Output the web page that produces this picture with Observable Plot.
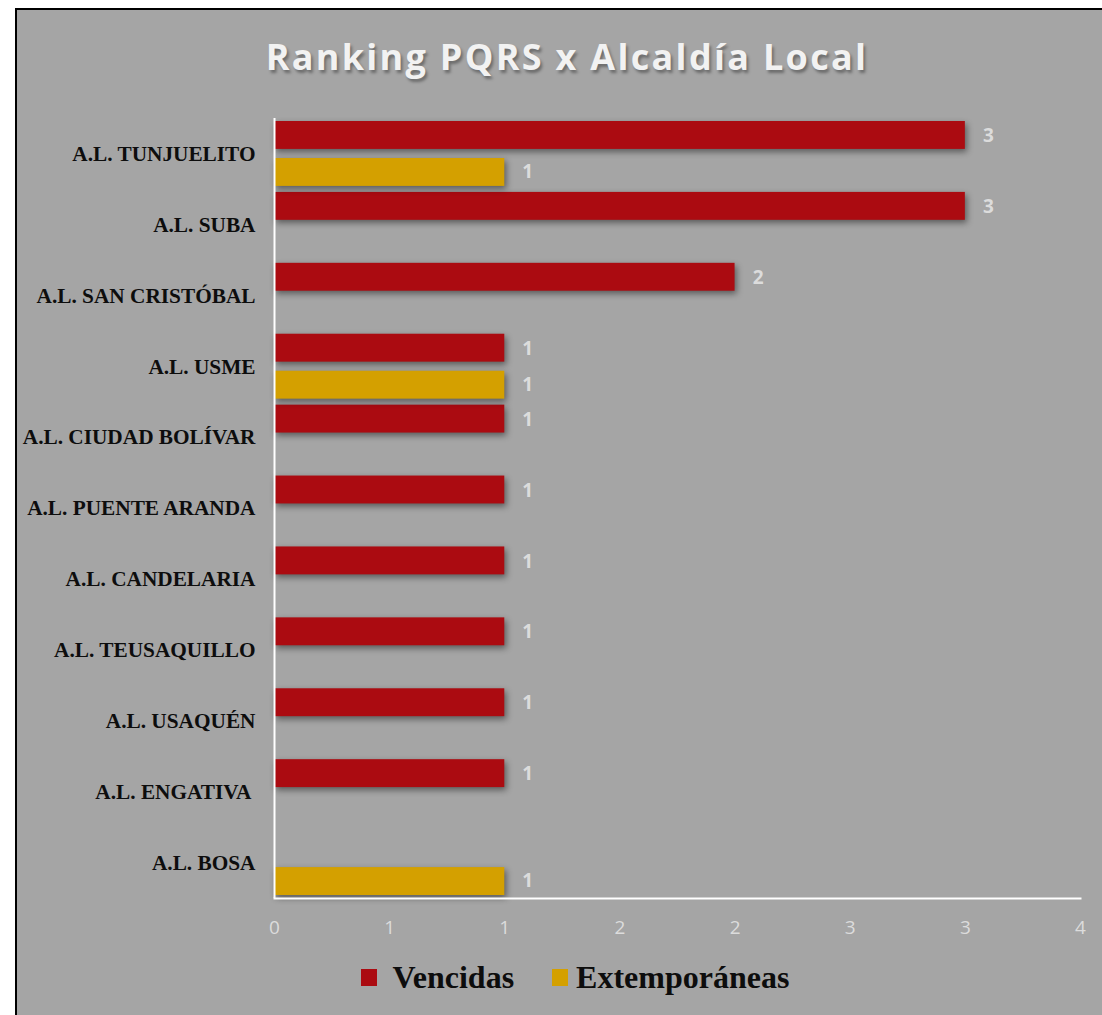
<!DOCTYPE html>
<html>
<head>
<meta charset="utf-8">
<script src="https://cdn.jsdelivr.net/npm/d3@7"></script>
<script src="https://cdn.jsdelivr.net/npm/@observablehq/plot@0.6"></script>
<style>
  html, body { margin: 0; padding: 0; background: #ffffff; width: 1102px; height: 1015px; overflow: hidden; }
  #panel { position: absolute; left: 15px; top: 8px; width: 1100px; height: 1020px; border: 2px solid #000; background: #a5a5a5; box-sizing: border-box; }
  #title { position: absolute; left: 0; top: 32px; width: 1134px; text-align: center; font-family: "Open Sans", sans-serif; font-weight: 700; font-size: 36px; letter-spacing: 2.3px; color: #f2f2f2; text-shadow: 2px 3px 3px rgba(0,0,0,0.35); white-space: nowrap; }
  #chart { position: absolute; left: 0; top: 0; }
  #chart svg { background: transparent; overflow: visible; }
  #chart g[aria-label="bar"] { filter: drop-shadow(2px 3px 3px rgba(0,0,0,0.45)); }
  #legend { position: absolute; top: 959px; left: 0; width: 1102px; display: flex; justify-content: center; align-items: center; font-family: "Liberation Serif", serif; font-weight: 700; font-size: 32px; color: #0d0d0d; padding-left: 86px; box-sizing: border-box; }
  .sw { display: inline-block; width: 16px; height: 17px; margin-right: 16px; }
  .item { display: flex; align-items: center; margin-right: 38px; }
</style>
</head>
<body>
<div id="panel"></div>
<div id="title">Ranking PQRS x Alcaldía Local</div>
<div id="chart"></div>
<div id="legend"></div>
<script>
const categories = [
  "A.L. TUNJUELITO",
  "A.L. SUBA",
  "A.L. SAN CRISTÓBAL",
  "A.L. USME",
  "A.L. CIUDAD BOLÍVAR",
  "A.L. PUENTE ARANDA",
  "A.L. CANDELARIA",
  "A.L. TEUSAQUILLO",
  "A.L. USAQUÉN",
  "A.L. ENGATIVA ",
  "A.L. BOSA"
];
const vencidas = [3, 3, 2, 1, 1, 1, 1, 1, 1, 1, 0];
const extemporaneas = [1, 0, 0, 1, 0, 0, 0, 0, 0, 0, 1];
const seriesNames = ["Vencidas", "Extemporáneas"];
const seriesColors = ["#ab0b11", "#d4a000"];
const tickValues = [0, 0.5, 1, 1.5, 2, 2.5, 3, 3.5];
const tickLabels = ["0", "1", "1", "2", "2", "3", "3", "4"];

const venData = categories.map((c, i) => ({cat: c, value: vencidas[i]})).filter(d => d.value > 0);
const extData = categories.map((c, i) => ({cat: c, value: extemporaneas[i]})).filter(d => d.value > 0);

const labelFont = "Open Sans, sans-serif";

const plot = Plot.plot({
  width: 1102,
  height: 950,
  marginLeft: 274,
  marginRight: 22,
  marginTop: 118,
  marginBottom: 52,
  style: { background: "transparent", overflow: "visible" },
  x: { domain: [0, 3.5], axis: null },
  y: { domain: categories, padding: 0, round: false },
  marks: [
    Plot.barX(venData, { x: "value", y: "cat", fill: seriesColors[0], insetTop: 3, insetBottom: 40 }),
    Plot.barX(extData, { x: "value", y: "cat", fill: seriesColors[1], insetTop: 40, insetBottom: 3 }),
    Plot.text(venData, { x: "value", y: "cat", text: d => String(d.value), dx: 23, dy: -18, fill: "#dcdcdc", fontWeight: 700, fontSize: 19, fontFamily: labelFont, textAnchor: "middle" }),
    Plot.text(extData, { x: "value", y: "cat", text: d => String(d.value), dx: 23, dy: 18, fill: "#dcdcdc", fontWeight: 700, fontSize: 19, fontFamily: labelFont, textAnchor: "middle" }),
    Plot.ruleX([0], { stroke: "#ffffff", strokeWidth: 2 }),
    Plot.frame({ anchor: "bottom", stroke: "#ffffff", strokeWidth: 2 }),
    Plot.axisY({ tickSize: 0, tickPadding: 19, fill: "#0d0d0d", label: null, fontSize: 21.3, fontFamily: "Liberation Serif, serif", fontWeight: 700 }),
    Plot.text(tickValues, { x: d => d, frameAnchor: "bottom", text: (d, i) => tickLabels[i], dy: 35, fill: "#dcdcdc", fontSize: 19, fontFamily: labelFont, textAnchor: "middle" })
  ]
});
document.getElementById("chart").appendChild(plot);

plot.querySelectorAll("g[font-size]").forEach(g => {
  const fs = g.getAttribute("font-size");
  g.querySelectorAll("text").forEach(t => { t.style.fontSize = fs + "px"; });
});

const legend = document.getElementById("legend");
seriesNames.forEach((name, i) => {
  const item = document.createElement("div");
  item.className = "item";
  const sw = document.createElement("span");
  sw.className = "sw";
  sw.style.background = seriesColors[i];
  if (i === 1) sw.style.marginRight = "8px";
  item.appendChild(sw);
  const t = document.createElement("span");
  t.textContent = name;
  item.appendChild(t);
  legend.appendChild(item);
});
</script>
</body>
</html>
